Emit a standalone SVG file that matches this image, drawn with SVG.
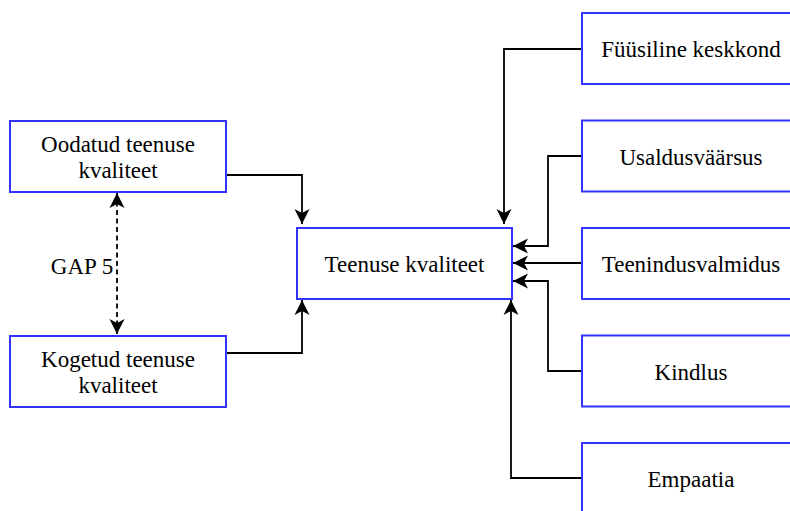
<svg xmlns="http://www.w3.org/2000/svg" width="790" height="511" viewBox="0 0 790 511">
  <style>
    .box { fill: #ffffff; stroke: #3333ff; stroke-width: 2; }
    .lbl { font-family: "Liberation Serif", "Times New Roman", serif; font-size: 23px; fill: #000000; text-anchor: middle; }
    .edge { fill: none; stroke: #000000; stroke-width: 1.8; }
    .dash { stroke-dasharray: 5 3.5; }
  </style>
  <defs>
    <marker id="arrow" viewBox="-16 -9 18 18" refX="0" refY="0" markerWidth="18" markerHeight="18" markerUnits="userSpaceOnUse" orient="auto-start-reverse">
      <path d="M0,0 L-15,-7.5 L-11,0 L-15,7.5 Z" fill="#000000"/>
    </marker>
  </defs>
  <rect width="790" height="511" fill="#ffffff"/>

  <g id="connectors">
    <path class="edge" d="M226,175 H302 V224" marker-end="url(#arrow)"/>
    <path class="edge" d="M226,353 H302 V300" marker-end="url(#arrow)"/>
    <path class="edge dash" d="M117,193 V334" marker-start="url(#arrow)" marker-end="url(#arrow)"/>
    <path class="edge" d="M582,49 H504 V224" marker-end="url(#arrow)"/>
    <path class="edge" d="M582,156 H548 V246 H513" marker-end="url(#arrow)"/>
    <path class="edge" d="M582,263 H513" marker-end="url(#arrow)"/>
    <path class="edge" d="M582,371 H548 V281 H513" marker-end="url(#arrow)"/>
    <path class="edge" d="M582,478 H511 V300" marker-end="url(#arrow)"/>
    <text class="lbl" x="82" y="274">GAP 5</text>
  </g>

  <g id="oodatud">
    <rect class="box" x="10" y="121" width="216" height="71"/>
    <text class="lbl" x="118" y="152">Oodatud teenuse</text>
    <text class="lbl" x="118" y="178">kvaliteet</text>
  </g>
  <g id="kogetud">
    <rect class="box" x="10" y="336" width="216" height="71"/>
    <text class="lbl" x="118" y="367">Kogetud teenuse</text>
    <text class="lbl" x="118" y="393">kvaliteet</text>
  </g>
  <g id="teenuse-kvaliteet">
    <rect class="box" x="297" y="228" width="215" height="71"/>
    <text class="lbl" x="404.5" y="272">Teenuse kvaliteet</text>
  </g>
  <g id="fuusiline">
    <rect class="box" x="582" y="13" width="218" height="71"/>
    <text class="lbl" x="691" y="57">Füüsiline keskkond</text>
  </g>
  <g id="usaldusvaarsus">
    <rect class="box" x="582" y="120.5" width="218" height="71"/>
    <text class="lbl" x="691" y="165">Usaldusväärsus</text>
  </g>
  <g id="teenindusvalmidus">
    <rect class="box" x="582" y="228" width="218" height="71"/>
    <text class="lbl" x="691" y="272">Teenindusvalmidus</text>
  </g>
  <g id="kindlus">
    <rect class="box" x="582" y="335.5" width="218" height="71"/>
    <text class="lbl" x="691" y="380">Kindlus</text>
  </g>
  <g id="empaatia">
    <rect class="box" x="582" y="443" width="218" height="71"/>
    <text class="lbl" x="691" y="487">Empaatia</text>
  </g>
</svg>
